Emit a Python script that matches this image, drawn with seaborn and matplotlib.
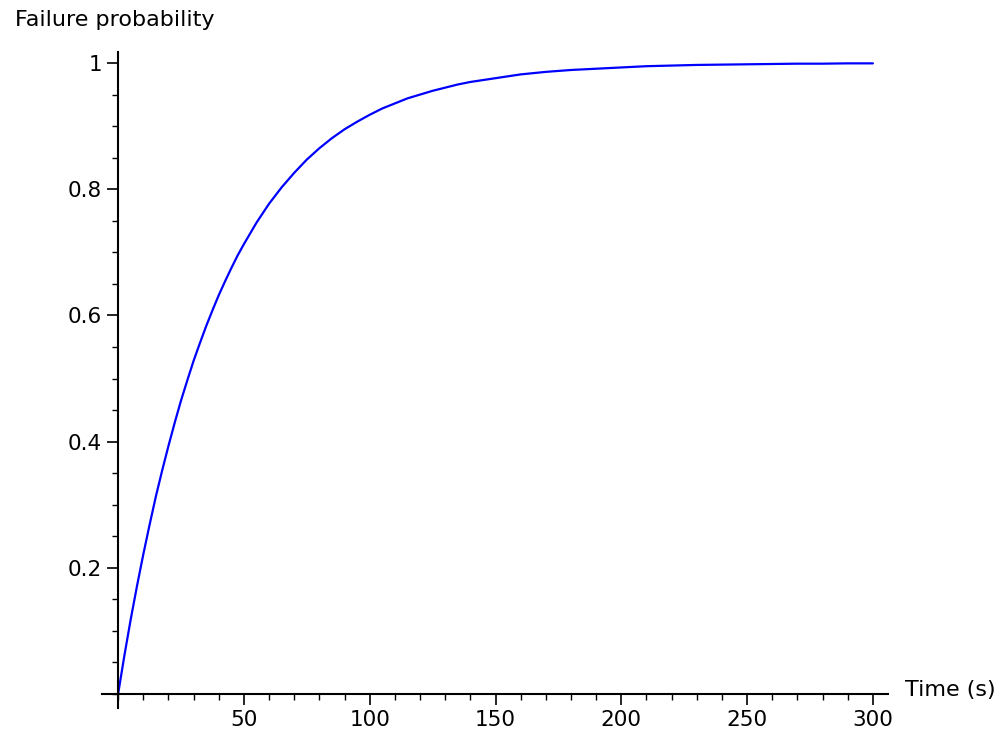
import matplotlib
matplotlib.use("Agg")
import matplotlib.pyplot as plt
from matplotlib.ticker import MultipleLocator, FixedLocator
import seaborn as sns
import pandas as pd

time_s = [0, 2.5, 5, 7.5, 10, 12.5, 15, 17.5, 20, 22.5, 25, 27.5, 30, 32.5, 35, 37.5,
          40, 42.5, 45, 47.5, 50, 55, 60, 65, 70, 75,
          80, 85, 90, 95, 100, 105, 110, 115, 120, 125, 130, 135, 140, 145, 150, 155,
          160, 170, 180, 190, 200, 210, 220, 230, 240, 250, 260, 270, 280, 290, 300]
failure_prob = [0.0, 0.061, 0.118, 0.171, 0.221, 0.268, 0.313, 0.354, 0.393, 0.430,
                0.465, 0.497, 0.528, 0.556, 0.583, 0.608, 0.632, 0.654, 0.675, 0.695,
                0.713, 0.747, 0.777, 0.803, 0.826, 0.847,
                0.865, 0.881, 0.895, 0.907, 0.918, 0.928, 0.936, 0.944, 0.950, 0.956,
                0.961, 0.966, 0.970, 0.973, 0.976, 0.979,
                0.982, 0.986, 0.989, 0.991, 0.993, 0.995, 0.996, 0.997, 0.9975, 0.998,
                0.9985, 0.999, 0.999, 0.9995, 0.9995]
y_ticks = [0.2, 0.4, 0.6, 0.8, 1.0]
y_tick_labels = ["0.2", "0.4", "0.6", "0.8", "1"]
x_ticks = [50, 100, 150, 200, 250, 300]
x_tick_labels = ["50", "100", "150", "200", "250", "300"]

df = pd.DataFrame({"t": time_s, "p": failure_prob})

sns.set_style("white")
plt.rcParams["font.family"] = ["DejaVu Sans"]
plt.rcParams["text.color"] = "black"

W, H = 1001, 736
fig = plt.figure(figsize=(W / 100, H / 100), dpi=100)
ax = fig.add_axes([102 / W, 1 - 708 / H, (888 - 102) / W, (708 - 52) / H])

sns.lineplot(data=df, x="t", y="p", ax=ax, color=(0, 0, 1), linewidth=1.6)

ax.set_xlim(-6.4, 306)
ax.set_ylim(-0.0222, 1.0175)

for s in ["top", "right"]:
    ax.spines[s].set_visible(False)
ax.spines["left"].set_position(("data", 0))
ax.spines["bottom"].set_position(("data", 0))
for s in ["left", "bottom"]:
    ax.spines[s].set_linewidth(1.5)
    ax.spines[s].set_color("black")

ax.xaxis.set_major_locator(FixedLocator(x_ticks))
ax.set_xticklabels(x_tick_labels)
ax.yaxis.set_major_locator(FixedLocator(y_ticks))
ax.set_yticklabels(y_tick_labels)
ax.xaxis.set_minor_locator(MultipleLocator(10))
ax.yaxis.set_minor_locator(MultipleLocator(0.05))
ax.tick_params(which="major", direction="out", length=8, width=1.2, labelsize=15.5,
               color="black", labelcolor="black", bottom=True, left=True)
ax.tick_params(which="minor", direction="out", length=4, width=1.0, color="black",
               bottom=True, left=True)
ax.set_xlabel("")
ax.set_ylabel("")
ax.grid(False)

fig.text(15 / W, 1 - 20 / H, "Failure probability", fontsize=16, ha="left", va="center",
         color="black")
fig.text(905 / W, 1 - 690 / H, "Time (s)", fontsize=16, ha="left", va="center",
         color="black")

fig.savefig("out.png", dpi=100)
